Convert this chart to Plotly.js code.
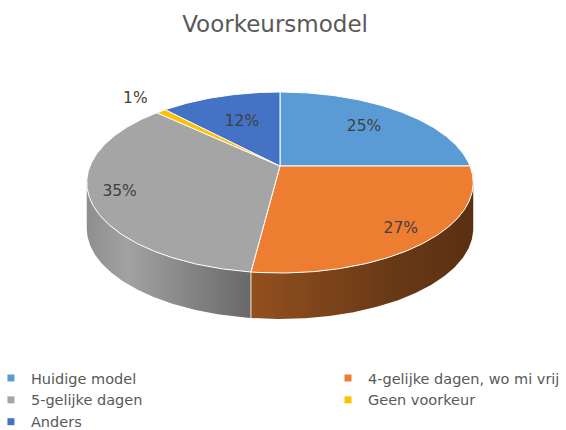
<!DOCTYPE html>
<html><head><meta charset="utf-8">
<script src="https://cdn.plot.ly/plotly-3.0.1.min.js"></script>
<style>html,body{margin:0;padding:0;background:#fff}</style></head>
<body><div id="chart" style="width:566px;height:430px"></div>
<script>
// ---- data ----
const categories = ['Huidige model', '4-gelijke dagen, wo mi vrij', '5-gelijke dagen', 'Geen voorkeur', 'Anders'];
const values = [25, 27, 35, 1, 12];
const valueLabels = ['25%', '27%', '35%', '1%', '12%'];

// ---- styles ----
const topColors = ['#5B9BD5', '#ED7D31', '#A5A5A5', '#FFC000', '#4472C4'];
const sideScales = [
  [[0, '#3d6f9e'], [1, '#2a5580']],
  [[0, '#93501f'], [0.6, '#6a3a16'], [1, '#5a3012']],
  [[0, '#8e8e8e'], [0.25, '#a2a2a2'], [1, '#686868']],
  [[0, '#b88a00'], [1, '#8a6800']],
  [[0, '#2f5597'], [1, '#203f73']]
];
const labelRadius = [0.68, 0.85, 0.85, 1.25, 0.6];
const legendOf = ['legend', 'legend2', 'legend', 'legend2', 'legend'];
const geo = {cx: 280, cy: 166, R: 190, B: 87.5, c: -0.1823, depth: 46};

function proj(deg, r, drop) {
  const t = deg * Math.PI / 180;
  const u = r * Math.sin(t), v = -r * Math.cos(t);
  const d = 1 + geo.c * v;
  return [geo.cx + geo.R * u / d, geo.cy + geo.B * v / d + (drop || 0)];
}
function arc(a0, a1, drop) {
  const pts = [];
  const n = Math.max(2, Math.ceil(Math.abs(a1 - a0) / 0.5));
  for (let i = 0; i <= n; i++) pts.push(proj(a0 + (a1 - a0) * i / n, 1, drop));
  return pts;
}
// visible front range of the side wall
let thR = 90, thL = 270, best = -1e9, worst = 1e9;
for (let a = 90; a <= 180; a += 0.1) { const x = proj(a, 1)[0]; if (x > best) { best = x; thR = a; } }
for (let a = 180; a <= 270; a += 0.1) { const x = proj(a, 1)[0]; if (x < worst) { worst = x; thL = a; } }

const total = values.reduce((s, v) => s + v, 0);
const starts = [], ends = [];
let acc = 0;
values.forEach(v => { starts.push(acc / total * 360); acc += v; ends.push(acc / total * 360); });

const traces = [];
// side walls
values.forEach((v, i) => {
  const lo = Math.max(starts[i], thR), hi = Math.min(ends[i], thL);
  if (hi <= lo) return;
  const pts = arc(lo, hi, 0).concat(arc(hi, lo, geo.depth));
  pts.push(pts[0]);
  traces.push({
    type: 'scatter', mode: 'lines', x: pts.map(p => p[0]), y: pts.map(p => p[1]),
    fill: 'toself', fillcolor: topColors[i], line: {width: 0},
    fillgradient: {type: 'horizontal', colorscale: sideScales[i]},
    showlegend: false, hoverinfo: 'skip'
  });
});
// seams on the side wall
starts.forEach((a, i) => {
  if (a > thR && a < thL) {
    const p0 = proj(a, 1, 0), p1 = proj(a, 1, geo.depth);
    traces.push({type: 'scatter', mode: 'lines', x: [p0[0], p1[0]], y: [p0[1], p1[1]],
      line: {color: '#f3e9df', width: 1}, showlegend: false, hoverinfo: 'skip'});
  }
});
// top faces
values.forEach((v, i) => {
  const pts = [[geo.cx, geo.cy]].concat(arc(starts[i], ends[i], 0));
  pts.push([geo.cx, geo.cy]);
  traces.push({
    type: 'scatter', mode: 'lines', x: pts.map(p => p[0]), y: pts.map(p => p[1]),
    fill: 'toself', fillcolor: topColors[i], line: {color: '#ffffff', width: 1},
    showlegend: false, hoverinfo: 'skip'
  });
});
// data labels
const lp = values.map((v, i) => proj((starts[i] + ends[i]) / 2, labelRadius[i], 0));
traces.push({
  type: 'scatter', mode: 'text', x: lp.map(p => p[0]), y: lp.map(p => p[1]),
  text: valueLabels, textfont: {family: 'DejaVu Sans', size: 15.5, color: '#404040'},
  showlegend: false, hoverinfo: 'skip'
});
// legend entries
categories.forEach((c, i) => {
  traces.push({
    type: 'scatter', mode: 'markers', x: [null], y: [null], name: c,
    marker: {symbol: 'square', size: 7, color: topColors[i]},
    legend: legendOf[i], showlegend: true
  });
});

const legendFont = {family: 'DejaVu Sans', size: 14.5, color: '#595959'};
const layout = {
  width: 566, height: 430,
  margin: {l: 0, r: 0, t: 0, b: 0, autoexpand: false},
  paper_bgcolor: '#ffffff', plot_bgcolor: '#ffffff',
  hovermode: false,
  title: {text: 'Voorkeursmodel', font: {family: 'DejaVu Sans', size: 23, color: '#595959'},
    x: 0.486, xanchor: 'center', y: 0.944, yanchor: 'middle'},
  xaxis: {range: [0, 566], visible: false, fixedrange: true},
  yaxis: {range: [430, 0], visible: false, fixedrange: true},
  legend: {x: -0.016, xanchor: 'left', y: 0.158, yanchor: 'top', font: legendFont,
    bgcolor: 'rgba(0,0,0,0)', tracegroupgap: 0, itemwidth: 30},
  legend2: {x: 0.5795, xanchor: 'left', y: 0.158, yanchor: 'top', font: legendFont,
    bgcolor: 'rgba(0,0,0,0)', tracegroupgap: 0, itemwidth: 30}
};
Plotly.newPlot('chart', traces, layout, {displayModeBar: false, staticPlot: true});
</script></body></html>
